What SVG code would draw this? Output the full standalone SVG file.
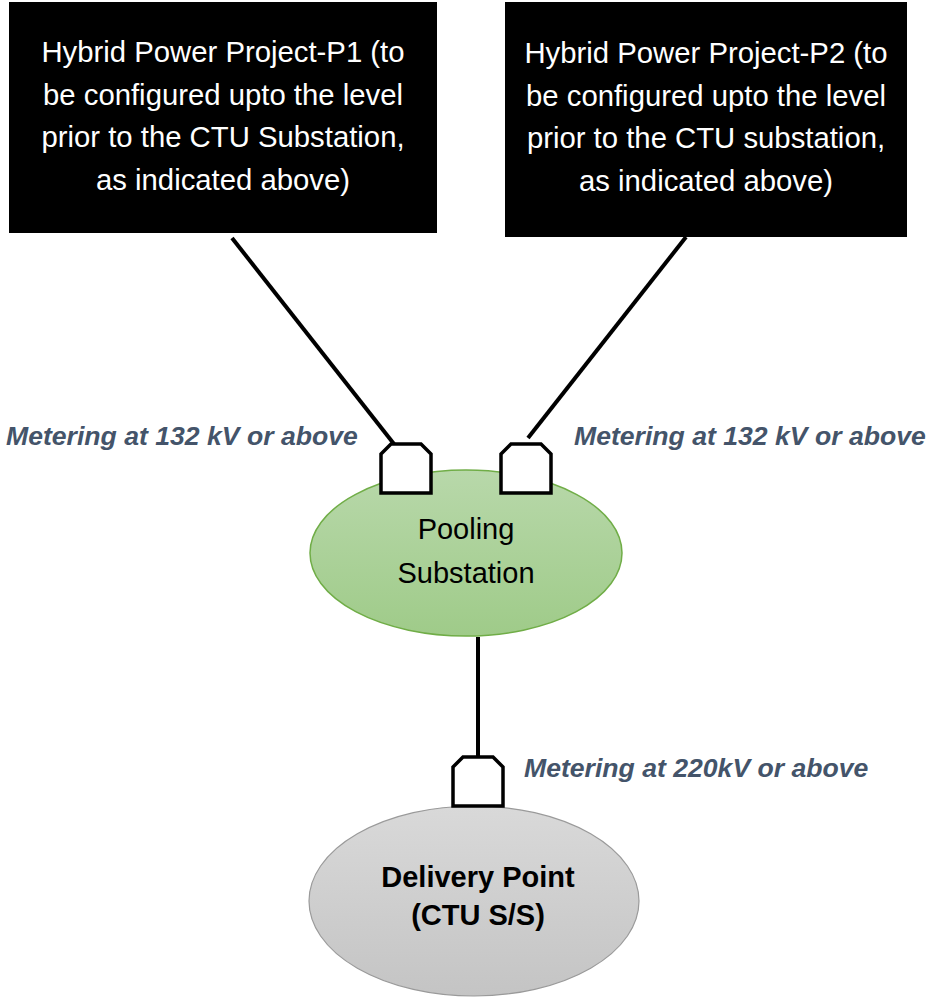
<svg xmlns="http://www.w3.org/2000/svg" width="928" height="997" viewBox="0 0 928 997">
<style>
.box{fill:#000}
.bt{font-family:"Liberation Sans",Arial,sans-serif;font-size:29.3px;fill:#fff;text-anchor:middle}
.nt{font-family:"Liberation Sans",Arial,sans-serif;font-size:29px;fill:#000;text-anchor:middle}
.nb{font-weight:bold}
.lbl{font-family:"Liberation Sans",Arial,sans-serif;font-size:26.6px;font-weight:bold;font-style:italic;fill:#44546a}
.ln{stroke:#000;stroke-width:4;fill:none}
.meter{fill:#fff;stroke:#000;stroke-width:3.5}
</style>
<defs>
<linearGradient id="g1" x1="0" y1="0" x2="0" y2="1"><stop offset="0" stop-color="#b8d8aa"/><stop offset="1" stop-color="#9fcb89"/></linearGradient>
<linearGradient id="g2" x1="0" y1="0" x2="0" y2="1"><stop offset="0" stop-color="#d9d9d9"/><stop offset="1" stop-color="#c4c4c4"/></linearGradient>
<path id="m" d="M0,10 L10,0 L40,0 L50,10 L50,49 L0,49 Z"/>
</defs>
<g id="connectors">
<line class="ln" x1="232" y1="238" x2="394" y2="444"/>
<line class="ln" x1="686" y1="237" x2="528" y2="438"/>
<line class="ln" x1="478" y1="637" x2="478" y2="757"/>
</g>
<g id="p1">
<rect class="box" x="9" y="2" width="428" height="231"/>
<text class="bt" x="223" y="62">Hybrid Power Project-P1 (to</text>
<text class="bt" x="223" y="104.5">be configured upto the level</text>
<text class="bt" x="223" y="147">prior to the CTU Substation,</text>
<text class="bt" x="223" y="189.5">as indicated above)</text>
</g>
<g id="p2">
<rect class="box" x="505" y="2" width="402" height="235"/>
<text class="bt" x="706" y="63">Hybrid Power Project-P2 (to</text>
<text class="bt" x="706" y="105.5">be configured upto the level</text>
<text class="bt" x="706" y="148">prior to the CTU substation,</text>
<text class="bt" x="706" y="190.5">as indicated above)</text>
</g>
<g id="pooling">
<ellipse cx="466" cy="553" rx="156" ry="83" fill="url(#g1)" stroke="#70ad47" stroke-width="1.5"/>
<text class="nt" x="466" y="539">Pooling</text>
<text class="nt" x="466" y="583">Substation</text>
</g>
<g id="delivery">
<ellipse cx="474" cy="901" rx="165" ry="95" fill="url(#g2)" stroke="#9a9a9a" stroke-width="1.2"/>
<text class="nt nb" x="478" y="887">Delivery Point</text>
<text class="nt nb" x="478" y="925">(CTU S/S)</text>
</g>
<g id="meter1"><use href="#m" class="meter" x="381" y="444"/></g>
<g id="meter2"><use href="#m" class="meter" x="501" y="444"/></g>
<g id="meter3"><use href="#m" class="meter" x="453" y="757"/></g>
<g id="labels">
<text class="lbl" x="6" y="445">Metering at 132 kV or above</text>
<text class="lbl" x="574" y="445">Metering at 132 kV or above</text>
<text class="lbl" x="524" y="777">Metering at 220kV or above</text>
</g>
</svg>
